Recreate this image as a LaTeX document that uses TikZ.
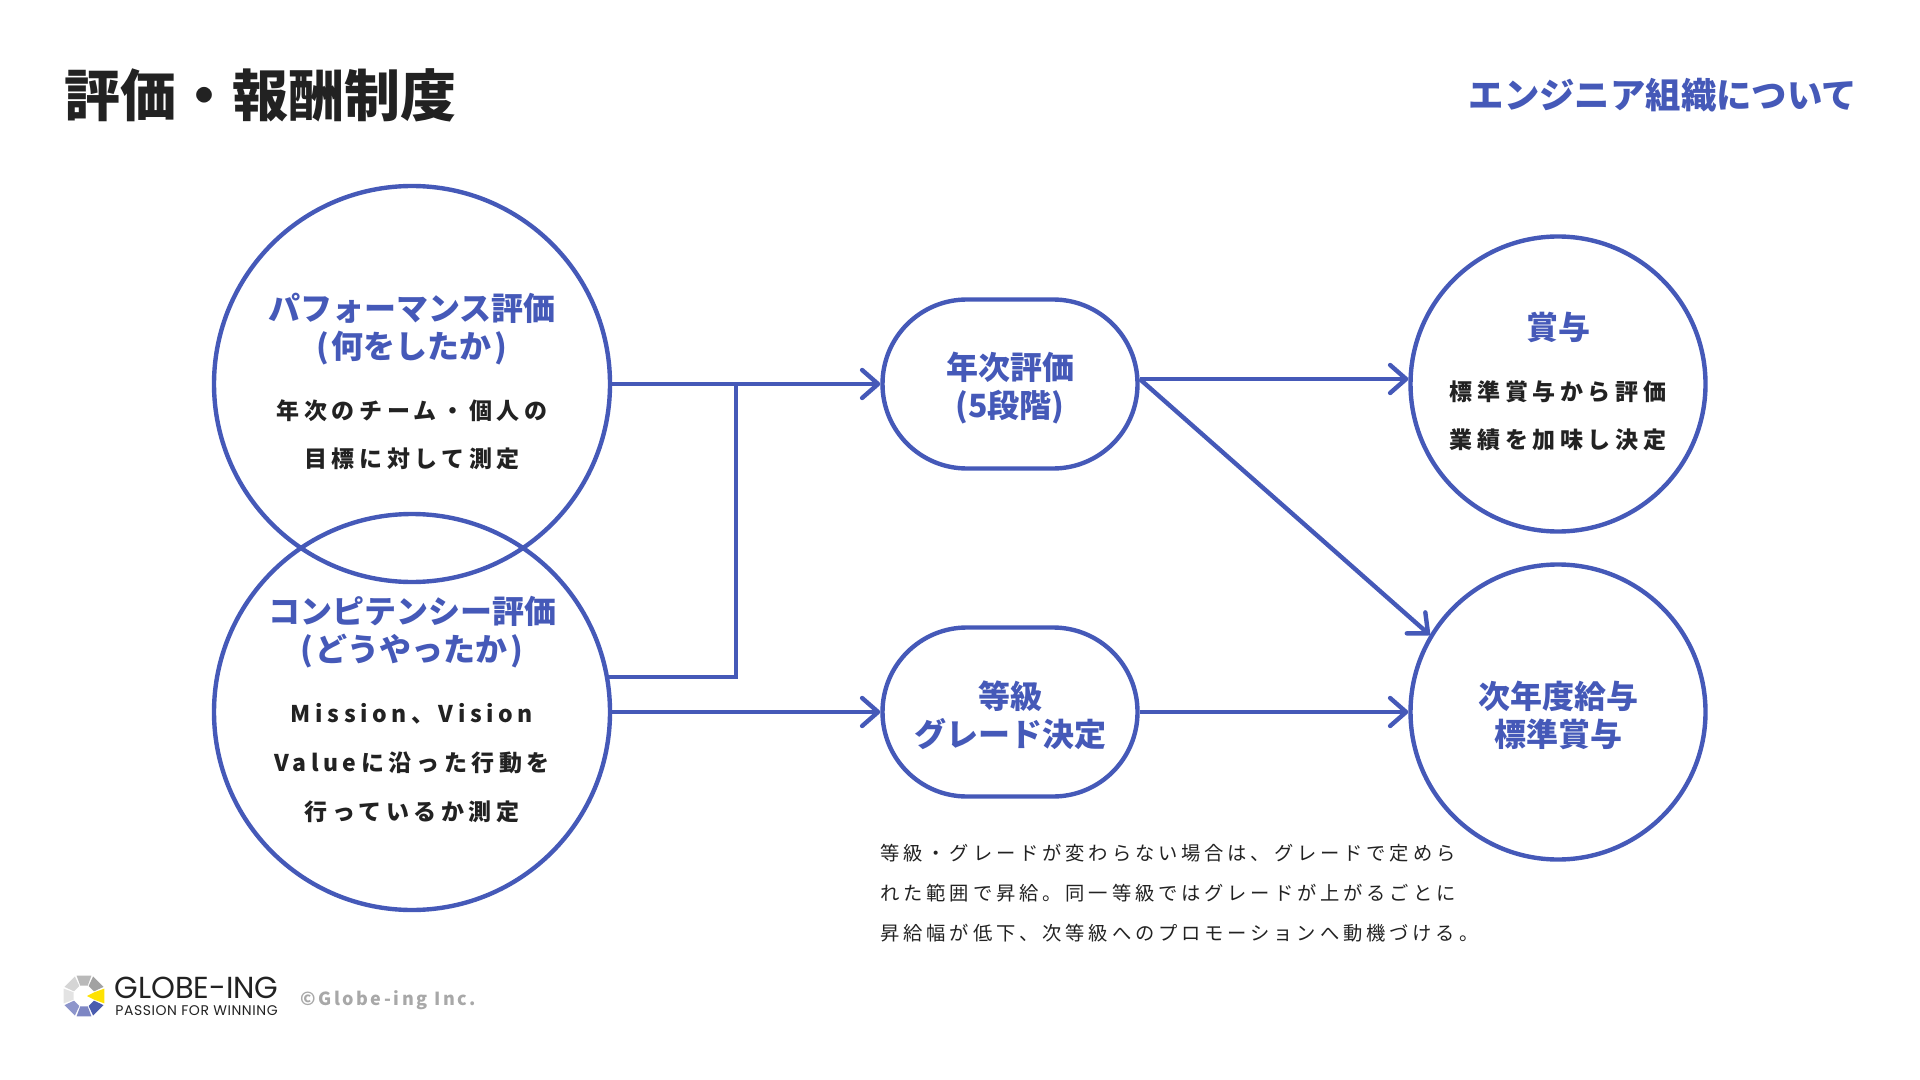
\documentclass[tikz,border=0pt]{standalone}
\usepackage{fontspec}
\setmainfont{Noto Sans CJK JP}
\newfontfamily\bodyfont[LetterSpace=20]{Noto Sans CJK JP}
\newfontfamily\notefont[LetterSpace=20]{Noto Sans CJK JP}
\newfontfamily\copyfont[LetterSpace=14]{Noto Sans CJK JP}
\newfontfamily\logofont{Poppins}
\newfontfamily\tagfont[LetterSpace=4]{Poppins}
\usetikzlibrary{arrows.meta}
\definecolor{globeblue}{HTML}{4559B8}
\definecolor{inkblack}{HTML}{222222}
\definecolor{copygray}{HTML}{A8A8A8}
\tikzstyle{bigcircle} = [circle, 
minimum size=198pt, 
inner sep=0pt, 
align=center, 
draw=globeblue, 
line width=2.2pt, 
text=globeblue,
font=\fontsize{16}{19}\selectfont]
\tikzstyle{smallcircle} = [bigcircle, minimum size=147.5pt]
\tikzstyle{pill} = [rectangle, rounded corners=42.2pt, 
minimum width=127.5pt, 
minimum height=84.5pt, 
inner sep=0pt, 
align=center, 
draw=globeblue, 
line width=2.2pt, 
text=globeblue,
font=\fontsize{16}{19}\selectfont]
\tikzstyle{line} = [draw=globeblue, line width=2.2pt]
\tikzstyle{arrow} = [line, -{Straight Barb[length=8pt,width=14pt,round]}]
\newcommand{\headtext}[1]{\bfseries #1}
\newcommand{\bodytext}[1]{\fontsize{11.5}{19}\selectfont\bodyfont\bfseries\color{inkblack}#1}
\newcommand{\padtop}[1]{\rule{0pt}{#1}}
\newcommand{\padbot}[1]{\rule[-#1]{0pt}{#1}}

\begin{document}
\begin{tikzpicture}[x=0.5pt,y=-0.5pt,node distance=164pt]
        \useasboundingbox (0,0) rectangle (1920,1080);
        \node (title) [anchor=west, text=inkblack, font=\fontsize{28}{30}\selectfont\bfseries] at (57,95) {評価・報酬制度};
        \node (section) [anchor=east, text=globeblue, font=\fontsize{17.7}{20}\selectfont\bfseries] at (1864,95) {エンジニア組織について};
        % left column
        \node (perf) [bigcircle] at (412,384) {\headtext{パフォーマンス評価}\\\headtext{(\kern1.5pt 何をしたか\kern1.5pt)}\\[11.5pt]\bodytext{年次のチーム・個人の}\\[5.3pt]\bodytext{目標に対して測定}\padbot{3.6pt}};
        \node (comp) [bigcircle, below of=perf] {\headtext{コンピテンシー評価}\\\headtext{(\kern1.5pt どうやったか\kern1.5pt)}\\[11.5pt]\bodytext{Mission、Vision}\\[5.3pt]\bodytext{Valueに沿った行動を}\\[5.3pt]\bodytext{行っているか測定}\padbot{3.6pt}};
        % middle column
        \node (annual) [pill, right of=perf, node distance=299pt] {\headtext{年次評価}\padtop{18pt}\\\headtext{(5段階)}};
        \node (grade) [pill, below of=annual] {\headtext{等級}\padtop{17pt}\\\headtext{グレード決定}};
        % right column
        \node (bonus) [smallcircle, right of=annual, node distance=274pt] {\headtext{賞与}\\[11.5pt]\bodytext{標準賞与から評価}\\[5.3pt]\bodytext{業績を加味し決定}\padbot{3.6pt}};
        \node (salary) [smallcircle, below of=bonus] {\headtext{次年度給与}\padtop{17pt}\\\headtext{標準賞与}};
        \coordinate (join) at (736,384);
        \draw [arrow] (perf) -- (annual);
        \draw [line] (comp.10.5) -| (join);
        \draw [arrow] (comp) -- (grade);
        \draw [arrow] ([yshift=2.5pt]annual.east) -- ([yshift=2.5pt]bonus.west);
        \draw [arrow] ([yshift=2.5pt]annual.east) -- (salary.149);
        \draw [arrow] (grade) -- (salary);
        \node (note) [anchor=west, align=left, text=inkblack, font=\fontsize{9.65}{20}\selectfont\notefont, inner sep=0pt] at (880,893) {等級・グレードが変わらない場合は、グレードで定めら\\れた範囲で昇給。同一等級ではグレードが上がるごとに\\昇給幅が低下、次等級へのプロモーションへ動機づける。};
        % logo
        \coordinate (mark) at (84,996);
        \foreach \ang/\col in {90/B9B9B9,45/A2A2A2,-45/4A5CAE,-90/7D86C4,-135/8D95CB,180/E3E3E3,135/D5D5D5}{
            \definecolor{segcol}{HTML}{\col}
            \fill [segcol, shift={(mark)}, rotate=\ang] (-20:11) -- (-20:21.6) -- (20:21.6) -- (20:11) -- cycle;
        }
        \fill [yellow!85!orange, shift={(mark)}] (-20:21.6) -- (20:21.6) -- (20:11) -- (3,0) -- (-20:11) -- cycle;
        \node (logoname) [anchor=west, inner sep=0pt, text=inkblack, font=\fontsize{15.2}{16}\logofont] at (114,988) {GLOBE-ING};
        \node (logotag) [anchor=west, inner sep=0pt, text=inkblack, font=\fontsize{7}{8}\tagfont] at (115,1011) {PASSION FOR WINNING};
        \node (copyright) [anchor=west, inner sep=0pt, text=copygray, font=\fontsize{9}{12}\selectfont\copyfont\bfseries] at (300,1000) {©Globe-ing Inc.};
    \end{tikzpicture}
\end{document}
